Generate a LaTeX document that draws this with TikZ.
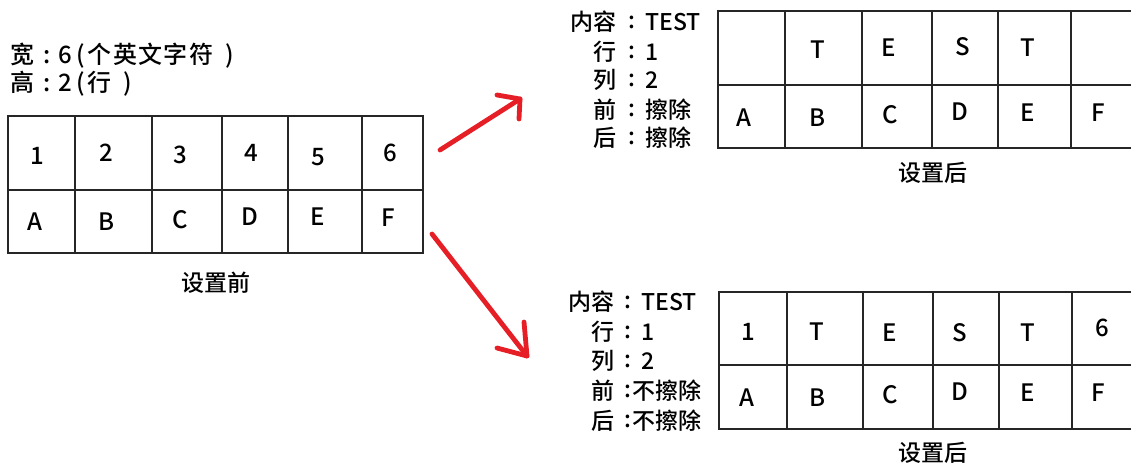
\documentclass[tikz,border=0pt]{standalone}
\usepackage{fontspec}
\setmainfont{Noto Sans CJK SC}[UprightFont={* Medium}]
\begin{document}
\begin{tikzpicture}[x=1pt,y=-1pt,
  grid/.style={line width=1.6pt, draw=black!85, line cap=rect},
  cell/.style={inner sep=0pt, font=\fontsize{24}{28}\selectfont},
  lbl/.style={inner sep=0pt, font=\fontsize{23}{27}\selectfont},
  toplbl/.style={inner sep=0pt, anchor=base, font=\fontsize{24}{28}\selectfont},
  redarrow/.style={draw={rgb,255:red,230;green,30;blue,38}, line width=4.8pt, line cap=round, line join=round}]
\useasboundingbox (0,0) rectangle (1131,470);

% ---------- left table (before) ----------
\node[toplbl] (w1) at (22.5,64) {宽};
\node[toplbl] (w2) at (47,64) {:};
\node[toplbl] (w3) at (65,64) {6};
\node[toplbl] (w4) at (80.5,64) {(};
\node[toplbl] (w5) at (150.5,64) {个\hspace{1.3pt}英\hspace{1.3pt}文\hspace{1.3pt}字\hspace{1.3pt}符};
\node[toplbl] (w6) at (229.5,64) {)};
\node[toplbl] (h1) at (22.5,92) {高};
\node[toplbl] (h2) at (47,92) {:};
\node[toplbl] (h3) at (65,92) {2};
\node[toplbl] (h4) at (80.5,92) {(};
\node[toplbl] (h5) at (99,92) {行};
\node[toplbl] (h6) at (127.5,92) {)};
\draw[grid] (8,116) rectangle (423,253);
\draw[grid] (8,190) -- (423,190);
\foreach \x in {75,152,222,288,362} \draw[grid] (\x,116) -- (\x,253);
\node[cell] (l11) at (37,155.5) {1};
\node[cell] (l12) at (106.7,153) {2};
\node[cell] (l13) at (180,155) {3};
\node[cell] (l14) at (251.7,153) {4};
\node[cell] (l15) at (318,157) {5};
\node[cell] (l16) at (390,153) {6};
\node[cell] (l21) at (35,221.5) {A};
\node[cell] (l22) at (106.7,222) {B};
\node[cell] (l23) at (180,220) {C};
\node[cell] (l24) at (250,217) {D};
\node[cell] (l25) at (318,217) {E};
\node[cell] (l26) at (388,218) {F};
\node[lbl] (capL) at (216,283) {设置前};

% ---------- top right table (erase) ----------
\foreach \k/\v/\y in {内容/TEST/22, 行/1/52, 列/2/80, 前/擦除/110, 后/擦除/138}{
  \node[lbl, anchor=east] (tk\y) at (617,\y) {\k};
  \node[lbl] (tc\y) at (632,\y) {:};
  \node[lbl, anchor=west] (tv\y) at (645,\y) {\v};
}
\draw[grid] (1131,11) -- (718,11) -- (718,148) -- (1131,148);
\draw[grid] (718,85) -- (1131,85);
\foreach \x in {785,862,932,998,1071} \draw[grid] (\x,11) -- (\x,148);
\node[cell] (a12) at (818,50) {T};
\node[cell] (a13) at (889,48) {E};
\node[cell] (a14) at (963,47) {S};
\node[cell] (a15) at (1028,48) {T};
\node[cell] (a21) at (744,118) {A};
\node[cell] (a22) at (817,118) {B};
\node[cell] (a23) at (890,115) {C};
\node[cell] (a24) at (960,112) {D};
\node[cell] (a25) at (1028,113) {E};
\node[cell] (a26) at (1098,113) {F};
\node[lbl] (capA) at (933,173) {设置后};

% ---------- bottom right table (no erase) ----------
\foreach \k/\v/\y/\vx in {内容/TEST/302/641, 行/1/332/641, 列/2/361/641, 前/不擦除/391/632, 后/不擦除/421/632}{
  \node[lbl, anchor=east] (bk\y) at (615,\y) {\k};
  \node[lbl] (bc\y) at (628,\y) {:};
  \node[lbl, anchor=west] (bv\y) at (\vx,\y) {\v};
}
\draw[grid] (1131,292) -- (719,292) -- (719,429) -- (1131,429);
\draw[grid] (719,365) -- (1131,365);
\foreach \x in {787,863,933,999,1072} \draw[grid] (\x,292) -- (\x,429);
\node[cell] (b11) at (748,332) {1};
\node[cell] (b12) at (817,332) {T};
\node[cell] (b13) at (890,333) {E};
\node[cell] (b14) at (960,333) {S};
\node[cell] (b15) at (1028,333) {T};
\node[cell] (b16) at (1102,328) {6};
\node[cell] (b21) at (747,398) {A};
\node[cell] (b22) at (817,398) {B};
\node[cell] (b23) at (890,395) {C};
\node[cell] (b24) at (960,392) {D};
\node[cell] (b25) at (1028,393) {E};
\node[cell] (b26) at (1098,393) {F};
\node[lbl] (capB) at (933,453) {设置后};

% ---------- red arrows ----------
\coordinate (u0) at (440,150);
\coordinate (u1) at (520,99);
\coordinate (uh1) at (497,95);
\coordinate (uh2) at (519,119);
\draw[redarrow] (u0) -- (u1);
\draw[redarrow] (uh1) -- (u1) -- (uh2);
\coordinate (d0) at (432,234);
\coordinate (d1) at (527,356);
\coordinate (dh1) at (497,348);
\coordinate (dh2) at (524,322);
\draw[redarrow] (d0) -- (d1);
\draw[redarrow] (dh1) -- (d1) -- (dh2);
\end{tikzpicture}
\end{document}
